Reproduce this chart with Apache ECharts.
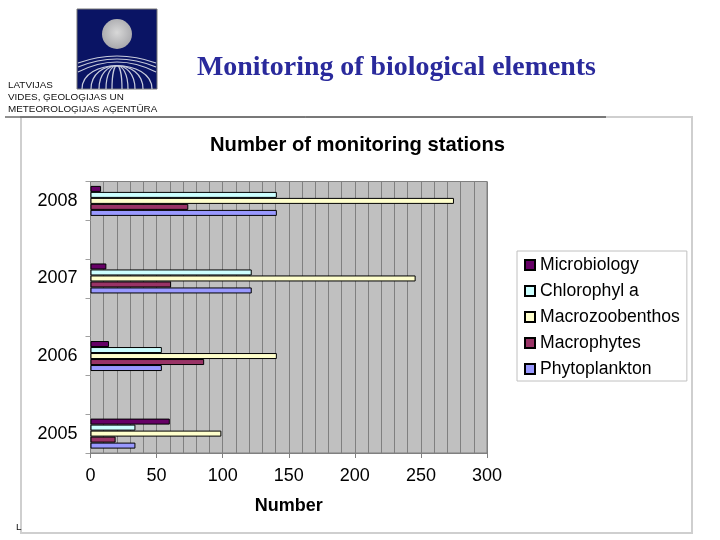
<!DOCTYPE html>
<html lang="en">

<head>
    <meta charset="UTF-8">
    <title>Monitoring of biological elements</title>
    <style>
        html, body { margin: 0; padding: 0; background: #fff; }
        #main { width: 720px; height: 540px; }
    </style>
    <script src="https://cdn.jsdelivr.net/npm/echarts@6/dist/echarts.min.js"></script>
</head>

<body>
    <div id="main"></div>

    <script type="text/javascript">
        // empty categories keep the gap between the years
        var categories = ['2005', '', '2006', '', '2007', '', '2008'];
        var phytoplankton = [34, null, 54, null, 122, null, 141];
        var macrophytes = [19, null, 86, null, 61, null, 74];
        var macrozoobenthos = [99, null, 141, null, 246, null, 275];
        var chlorophyll = [34, null, 54, null, 122, null, 141];
        var microbiology = [60, null, 14, null, 12, null, 8];
        var legendNames = ['Microbiology', 'Chlorophyl a', 'Macrozoobenthos', 'Macrophytes', 'Phytoplankton'];

        var FONT = '"Liberation Sans", Arial, sans-serif';

        function barSeries(name, values, color) {
            return {
                name: name,
                type: 'bar',
                data: values,
                barWidth: 6,
                barGap: '0%',
                animation: false,
                itemStyle: { color: color, borderColor: '#000', borderWidth: 1 }
            };
        }

        // logo: navy square, moon and the field lines under it
        function logoElements() {
            var els = [
                { type: 'rect', shape: { x: 77, y: 9, width: 80, height: 80 }, style: { fill: '#0a1464', stroke: '#777', lineWidth: 1 } },
                {
                    type: 'circle', shape: { cx: 117, cy: 34, r: 15 },
                    style: {
                        fill: {
                            type: 'radial', x: 0.5, y: 0.45, r: 0.6,
                            colorStops: [{ offset: 0, color: '#d8d8d8' }, { offset: 1, color: '#a4a4a8' }]
                        }
                    }
                }
            ];
            var topArcs = [[56, 63], [59, 67], [62, 72]];
            topArcs.forEach(function (a) {
                els.push({
                    type: 'bezierCurve',
                    shape: { x1: 78, y1: a[1], x2: 156, y2: a[1], cpx1: 117, cpy1: 2 * a[0] - a[1] },
                    style: { fill: 'none', stroke: '#c8ccdc', lineWidth: 1.2 }
                });
            });
            var widths = [5, 11, 18, 26, 35];
            widths.forEach(function (w) {
                els.push({
                    type: 'bezierCurve',
                    shape: { x1: 117 - w, y1: 89, x2: 117 + w, y2: 89, cpx1: 117 - w, cpy1: 58, cpx2: 117 + w, cpy2: 58 },
                    style: { fill: 'none', stroke: '#c8ccdc', lineWidth: 1.2 }
                });
            });
            return els;
        }

        function headerText(text, x, y) {
            return {
                type: 'text', x: x, y: y,
                style: { text: text, font: '9.9px ' + FONT, fill: '#111', verticalAlign: 'middle' }
            };
        }

        var option = {
            backgroundColor: '#fff',
            animation: false,
            title: {
                text: 'Number of monitoring stations',
                left: 205,
                top: 130,
                textStyle: { fontFamily: FONT, fontWeight: 'bold', fontSize: 20.2, color: '#000' }
            },
            legend: {
                data: legendNames,
                orient: 'vertical',
                left: 517,
                top: 251,
                padding: [5, 7, 3, 7],
                icon: 'rect',
                itemWidth: 10,
                itemHeight: 10,
                itemGap: 8,
                backgroundColor: '#fff',
                borderColor: '#c0c0c0',
                borderWidth: 1,
                textStyle: { fontFamily: FONT, fontSize: 17.6, color: '#000' }
            },
            grid: {
                left: 90.5,
                right: 233,
                top: 181.5,
                bottom: 87,
                show: true,
                backgroundColor: '#c0c0c0',
                borderColor: '#808080',
                borderWidth: 1
            },
            xAxis: {
                type: 'value',
                min: 0,
                max: 300,
                interval: 50,
                name: 'Number',
                nameLocation: 'middle',
                nameGap: 44,
                nameTextStyle: { fontFamily: FONT, fontWeight: 'bold', fontSize: 18, color: '#000' },
                axisLine: { show: true, lineStyle: { color: '#808080' } },
                axisTick: { show: true, length: 5, lineStyle: { color: '#808080' } },
                axisLabel: { fontFamily: FONT, fontSize: 18, color: '#000', margin: 14 },
                splitLine: { show: true, lineStyle: { color: '#808080', width: 1 } },
                minorSplitLine: { show: true, lineStyle: { color: '#808080', width: 1 } },
                minorTick: { show: false, splitNumber: 5 }
            },
            yAxis: {
                type: 'category',
                data: categories,
                axisLine: { show: true, lineStyle: { color: '#808080' } },
                axisTick: { show: true, length: 5, lineStyle: { color: '#a0a0a0' } },
                axisLabel: { interval: 0, fontFamily: FONT, fontSize: 18, color: '#000', margin: 13, padding: [0, 0, 5, 0] },
                splitLine: { show: false }
            },
            // the first series is drawn on top within each band
            series: [
                barSeries('Microbiology', microbiology, '#660066'),
                barSeries('Chlorophyl a', chlorophyll, '#ccffff'),
                barSeries('Macrozoobenthos', macrozoobenthos, '#ffffcc'),
                barSeries('Macrophytes', macrophytes, '#993366'),
                barSeries('Phytoplankton', phytoplankton, '#9999ff')
            ],
            graphic: {
                elements: logoElements().concat([
                    // slide frame and header rule
                    { type: 'rect', z: -1, shape: { x: 21, y: 117, width: 671, height: 416 }, style: { fill: 'none', stroke: '#cfcfcf', lineWidth: 2 } },
                    { type: 'line', shape: { x1: 5, y1: 117, x2: 606, y2: 117 }, style: { stroke: '#222', lineWidth: 1 } },
                    headerText('LATVIJAS', 8, 85),
                    headerText('VIDES, ĢEOLOĢIJAS UN', 8, 97),
                    headerText('METEOROLOĢIJAS AĢENTŪRA', 8, 109),
                    {
                        type: 'text', x: 197, y: 68,
                        style: { text: 'Monitoring of biological elements', font: 'bold 27.9px "Liberation Serif", serif', fill: '#2a2a9c', verticalAlign: 'middle' }
                    },
                    headerText('L', 16, 527)
                ])
            }
        };

        var myChart = echarts.init(document.getElementById('main'));
        myChart.setOption(option);
    </script>
</body>

</html>
